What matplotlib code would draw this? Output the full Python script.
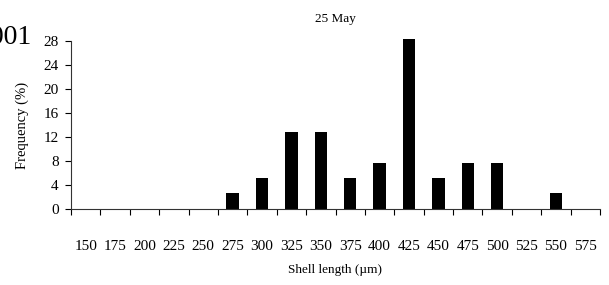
import matplotlib
matplotlib.use("Agg")
import matplotlib.pyplot as plt
import numpy as np

plt.rcParams['font.family'] = ['Liberation Serif', 'DejaVu Serif']

categories = ['150', '175', '200', '225', '250', '275', '300', '325', '350',
              '375', '400', '425', '450', '475', '500', '525', '550', '575']
frequency = [0, 0, 0, 0, 0, 2.6, 5.1, 12.8, 12.8, 5.1, 7.7, 28.4, 5.1, 7.7, 7.7, 0, 2.6, 0]
y_ticks = [0, 4, 8, 12, 16, 20, 24, 28]

fig = plt.figure(figsize=(6.09, 2.85), dpi=100)
ax = fig.add_axes([71 / 609, 76 / 285, 529 / 609, 168 / 285])

x = np.arange(len(categories))
ax.bar(x, frequency, width=0.42, color='black', clip_on=False)

ax.set_xlim(-0.5, len(categories) - 0.5)
ax.set_ylim(0, 28)
ax.set_yticks(y_ticks)
ax.set_xticks(x)
ax.set_xticklabels(categories)
ax.set_xticks(np.arange(len(categories) + 1) - 0.5, minor=True)
ax.tick_params(axis='x', which='major', length=0, pad=22, labelsize=11)
ax.tick_params(axis='x', which='minor', length=4, direction='out', width=0.8)
ax.tick_params(axis='y', length=4, direction='out', width=0.8, labelsize=11, pad=5)

for side in ['top', 'right']:
    ax.spines[side].set_visible(False)
for side in ['left', 'bottom']:
    ax.spines[side].set_linewidth(0.8)
    ax.spines[side].set_color('#333333')

ax.set_xlabel('Shell length (µm)', fontsize=9.5, labelpad=8)
ax.set_ylabel('Frequency (%)', fontsize=10.5, labelpad=10)
ax.set_title('25 May', fontsize=9.5, pad=14)

fig.text(32 / 609, 1 - 37 / 285, '2001', fontsize=20, ha='right', va='center')

fig.savefig('out.png', dpi=100)
